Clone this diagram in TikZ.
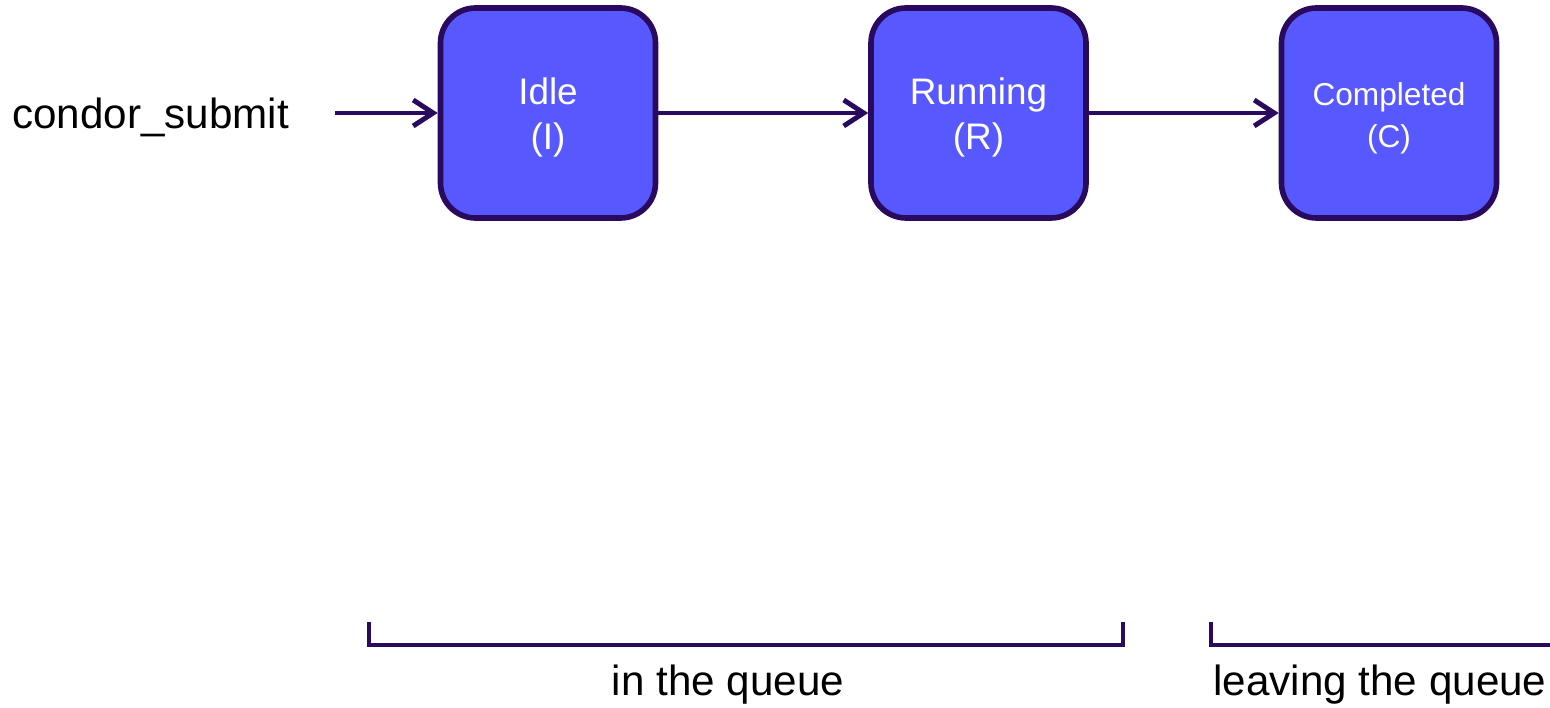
\documentclass[tikz,border=0pt]{standalone}
\usepackage{fontspec}
\setmainfont{Liberation Sans}
\usetikzlibrary{arrows.meta}

\definecolor{edgepurple}{HTML}{2A0A5E}
\definecolor{statefill}{HTML}{5858FF}
\newcommand{\twolines}[2]{\raisebox{-1.5pt}[\height][\depth]{\begin{tabular}{@{}c@{}}#1\\#2\end{tabular}}}

\tikzset{
  state/.style={draw=edgepurple,fill=statefill,line width=1.6pt,rounded corners=0.35cm,
    minimum width=2.15cm,minimum height=2.1cm,text=white,font=\fontsize{10.5}{12.6}\selectfont},
  trans/.style={draw=edgepurple,line width=1.4pt,-{Straight Barb[length=2mm,width=2.6mm]}},
  brace/.style={draw=edgepurple,line width=1.4pt},
  lbl/.style={font=\fontsize{12}{14}\selectfont}
}

\begin{document}
\begin{tikzpicture}
          \clip (0,0) rectangle (15.5,-7.08);
          \node[lbl,anchor=west] (submit) at (0.0,-1.17) {condor\_submit};
          \coordinate (start) at (3.35,-1.13);
          \node[state] (I) at (5.48,-1.13) {\twolines{Idle}{(I)}};
          \node[state] (R) at (9.785,-1.13) {\twolines{Running}{(R)}};
          \node[state,font=\fontsize{9}{12}\selectfont] (C) at (13.89,-1.13) {\twolines{Completed}{(C)}};
          \draw[trans] (start) -- (I);
          \draw[trans] (I) -- (R);
          \draw[trans] (R) -- (C);
          % brackets below
          \coordinate (q1) at (3.69,-6.22);
          \coordinate (q2) at (11.23,-6.22);
          \coordinate (l1) at (12.11,-6.22);
          \coordinate (l2) at (15.8,-6.22);
          \draw[brace] (q1) -- ++(0,-0.23) -| (q2);
          \draw[brace] (l1) -- ++(0,-0.23) -| (l2);
          \node[lbl] (inq) at (7.28,-6.85) {in the queue};
          \node[lbl] (leaveq) at (13.8,-6.85) {leaving the queue};
        \end{tikzpicture}
\end{document}
